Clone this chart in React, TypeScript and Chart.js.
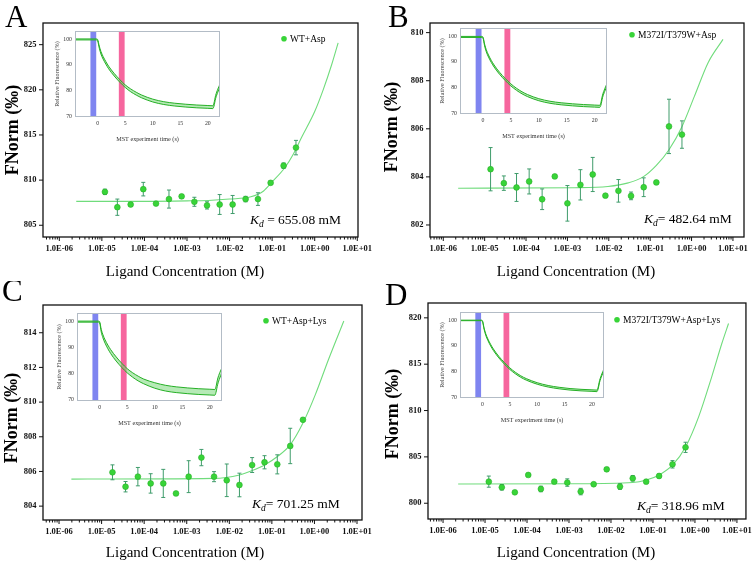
import React, { useEffect, useRef } from 'react';
import { Chart, registerables } from 'chart.js';
Chart.register(...registerables);

const FONT = '"Liberation Serif", "Times New Roman", serif';

// ---------- shared axis data ----------
const xTickValues = [1e-6, 1e-5, 1e-4, 1e-3, 1e-2, 1e-1, 1, 10];
const xTickLabels = ['1.0E-06', '1.0E-05', '1.0E-04', '1.0E-03', '1.0E-02', '1.0E-01', '1.0E+00', '1.0E+01'];

// ---------- Panel A : WT+Asp ----------
const concA = [1.18e-5, 2.31e-5, 4.75e-5, 9.4e-5, 1.87e-4, 3.77e-4, 7.48e-4, 1.49e-3, 2.95e-3, 5.85e-3, 1.18e-2, 2.38e-2, 4.64e-2, 9.22e-2, 0.186, 0.363];
const fnormA = [808.7, 807.0, 807.3, 809.0, 807.4, 807.9, 808.2, 807.6, 807.2, 807.3, 807.3, 807.9, 807.9, 809.7, 811.6, 813.6];
const errA = [0.3, 0.9, 0.2, 0.75, 0.2, 1.0, 0.2, 0.5, 0.4, 1.1, 1.0, 0.3, 0.7, 0.2, 0.3, 0.8];
const fitConcA = [2.5e-6, 1e-4, 1e-3, 3.16e-3, 1e-2, 3.16e-2, 6.3e-2, 0.1, 0.2, 0.316, 0.5, 1, 1.58, 2.51, 3.55];
const fitA = [807.65, 807.65, 807.7, 807.75, 807.9, 808.15, 808.8, 809.8, 811.4, 812.9, 814.8, 817.6, 820.0, 822.8, 825.2];
const yTicksA = [805, 810, 815, 820, 825];

// ---------- Panel B : M372I/T379W+Asp ----------
const concB = [1.39e-5, 2.91e-5, 5.89e-5, 1.19e-4, 2.45e-4, 4.95e-4, 1.0e-3, 2.06e-3, 4.09e-3, 8.28e-3, 1.71e-2, 3.45e-2, 6.98e-2, 0.141, 0.285, 0.586];
const fnormB = [804.32, 803.74, 803.56, 803.81, 803.07, 804.02, 802.9, 803.67, 804.1, 803.22, 803.42, 803.21, 803.57, 803.77, 806.1, 805.76];
const errB = [0.9, 0.3, 0.58, 0.52, 0.43, 0.06, 0.74, 0.63, 0.71, 0.06, 0.47, 0.16, 0.39, 0.06, 1.13, 0.57];
const fitConcB = [2.29e-6, 1.51e-3, 9.55e-3, 2.95e-2, 6.76e-2, 0.141, 0.285, 0.589, 1.17, 2.51, 5.75];
const fitB = [803.53, 803.55, 803.6, 803.75, 804.0, 804.48, 805.13, 806.1, 807.35, 808.75, 809.72];
const yTicksB = [802, 804, 806, 808, 810];

// ---------- Panel C : WT+Asp+Lys ----------
const concC = [1.8e-5, 3.65e-5, 7.11e-5, 1.42e-4, 2.81e-4, 5.59e-4, 1.11e-3, 2.21e-3, 4.38e-3, 8.71e-3, 1.73e-2, 3.44e-2, 6.72e-2, 0.134, 0.27, 0.537];
const fnormC = [805.95, 805.12, 805.7, 805.31, 805.31, 804.73, 805.7, 806.8, 805.7, 805.49, 805.22, 806.37, 806.53, 806.41, 807.47, 808.98];
const errC = [0.43, 0.3, 0.53, 0.56, 0.81, 0.06, 0.92, 0.47, 0.29, 0.94, 0.68, 0.43, 0.38, 0.55, 1.02, 0.1];
const fitConcC = [1.95e-6, 4.27e-3, 1.74e-2, 3.47e-2, 6.76e-2, 0.135, 0.269, 0.537, 1.05, 2.14, 4.9];
const fitC = [805.56, 805.6, 805.8, 806.05, 806.37, 806.86, 807.53, 808.79, 810.43, 812.46, 814.68];
const yTicksC = [804, 806, 808, 810, 812, 814];

// ---------- Panel D : M372I/T379W+Asp+Lys ----------
const concD = [1.23e-5, 2.51e-5, 5.13e-5, 1.07e-4, 2.14e-4, 4.46e-4, 9.1e-4, 1.9e-3, 3.87e-3, 7.91e-3, 1.64e-2, 3.3e-2, 6.89e-2, 0.14, 0.292, 0.597];
const fnormD = [802.33, 801.72, 801.18, 803.05, 801.54, 802.33, 802.23, 801.26, 802.05, 803.66, 801.8, 802.69, 802.33, 802.94, 804.2, 806.03];
const errD = [0.6, 0.3, 0.15, 0.15, 0.3, 0.2, 0.4, 0.35, 0.1, 0.2, 0.3, 0.3, 0.15, 0.2, 0.4, 0.55];
const fitConcD = [2.29e-6, 1.38e-3, 3.31e-2, 6.92e-2, 0.141, 0.295, 0.603, 1.23, 2.51, 4.37, 6.31];
const fitD = [802.08, 802.1, 802.23, 802.5, 803.05, 804.13, 806.1, 809.34, 813.64, 817.23, 819.39];
const yTicksD = [800, 805, 810, 815, 820];

// ---------- inset (MST traces) ----------
const insetTime = [-4.1, -0.2, 0, 0.3, 0.6, 1, 1.5, 2, 3, 4, 5, 6, 7, 8, 10, 12, 14, 16, 18, 20, 20.9, 21.1, 21.4, 21.8, 22.2];
const insetUpperA = [100.2, 100.2, 100.0, 97.4, 95.3, 93.3, 91.3, 89.5, 86.7, 84.3, 82.2, 80.6, 79.3, 78.2, 76.6, 75.6, 75.0, 74.6, 74.3, 74.1, 74.0, 75.0, 78.0, 80.5, 82.5];
const insetLowerA = [99.8, 99.8, 99.5, 96.6, 94.3, 92.3, 90.3, 88.5, 85.7, 83.3, 81.2, 79.5, 78.2, 77.1, 75.5, 74.5, 73.9, 73.5, 73.2, 73.0, 72.9, 73.8, 76.8, 79.3, 81.5];
const insetUpperB = [100.0, 100.0, 99.8, 97.0, 94.8, 92.7, 90.6, 88.8, 85.9, 83.5, 81.4, 79.7, 78.3, 77.2, 75.6, 74.6, 74.0, 73.6, 73.3, 73.1, 73.0, 74.0, 77.0, 79.5, 81.5];
const insetLowerB = [99.6, 99.6, 99.4, 96.3, 94.0, 91.9, 89.8, 88.0, 85.1, 82.7, 80.6, 78.9, 77.5, 76.4, 74.8, 73.8, 73.2, 72.8, 72.5, 72.3, 72.2, 73.0, 76.0, 78.5, 80.5];
const insetUpperC = [100.2, 100.2, 100.0, 97.0, 95.0, 93.0, 91.0, 89.3, 86.5, 84.1, 82.0, 80.4, 79.1, 78.0, 76.6, 75.6, 75.0, 74.6, 74.3, 74.1, 74.0, 75.0, 78.0, 80.5, 82.3];
const insetLowerC = [99.8, 99.8, 99.5, 96.0, 93.8, 91.7, 89.6, 87.8, 84.9, 82.5, 80.4, 78.7, 77.3, 76.2, 74.5, 73.4, 72.8, 72.4, 72.1, 71.9, 71.8, 72.8, 75.8, 78.4, 80.5];
const insetUpperD = [100.1, 100.1, 99.9, 97.0, 94.8, 92.7, 90.6, 88.8, 85.9, 83.5, 81.4, 79.7, 78.3, 77.2, 75.6, 74.5, 73.8, 73.3, 73.0, 72.8, 72.7, 73.6, 76.5, 79.0, 81.0];
const insetLowerD = [99.9, 99.9, 99.6, 96.5, 94.2, 92.1, 90.0, 88.2, 85.3, 82.9, 80.8, 79.1, 77.7, 76.6, 75.0, 73.9, 73.2, 72.7, 72.4, 72.2, 72.1, 72.9, 75.8, 78.3, 80.3];
const insetTicksX = [0, 5, 10, 15, 20];
const insetTicksY = [70, 80, 90, 100];
const blueBand = [-1.3, -0.25];
const pinkBand = [3.85, 4.9];

// ---------- texts ----------
const panelLetters = ['A', 'B', 'C', 'D'];
const legendLabels = ['WT+Asp', 'M372I/T379W+Asp', 'WT+Asp+Lys', 'M372I/T379W+Asp+Lys'];
const kdTexts = [' = 655.08 mM', '= 482.64 mM', '= 701.25 mM', '= 318.96 mM'];

// ---------- styles ----------
const PT_FILL = '#38d438';
const PT_EDGE = '#28b028';
const FIT_COLOR = '#70dc7c';
const ERR_COLOR = '#3f9c6b';
const INSET_LINE = '#26b026';
const INSET_FILL = 'rgba(110,214,110,0.5)';

type Box = { x0: number; y0: number; x1: number; y1: number };
type PanelCfg = {
  conc: number[]; fnorm: number[]; err: number[]; fitConc: number[]; fit: number[];
  yTicks: number[]; xRange: [number, number]; yRange: [number, number];
  canvas: { L: number; T: number; W: number; H: number };
  box: Box;
  letter: string; letterPos: [number, number];
  legend: string; legendPos: [number, number];
  kd: string; kdPos: [number, number];
  yTitlePos: [number, number]; xTitlePos: [number, number];
  insetBox: Box; insetUpper: number[]; insetLower: number[];
};

const panels: PanelCfg[] = [
  {
    conc: concA, fnorm: fnormA, err: errA, fitConc: fitConcA, fit: fitA, yTicks: yTicksA,
    xRange: [4.14e-7, 10.4], yRange: [803.7, 827.4],
    canvas: { L: 0, T: 0, W: 377, H: 281 }, box: { x0: 43, y0: 23, x1: 358, y1: 237 },
    letter: panelLetters[0], letterPos: [5, 26.5],
    legend: legendLabels[0], legendPos: [290, 42],
    kd: kdTexts[0], kdPos: [250, 224],
    yTitlePos: [13, 130], xTitlePos: [185, 272],
    insetBox: { x0: 75, y0: 31, x1: 220, y1: 117 }, insetUpper: insetUpperA, insetLower: insetLowerA,
  },
  {
    conc: concB, fnorm: fnormB, err: errB, fitConc: fitConcB, fit: fitB, yTicks: yTicksB,
    xRange: [4.78e-7, 18.5], yRange: [801.5, 810.4],
    canvas: { L: 377, T: 0, W: 378, H: 281 }, box: { x0: 430, y0: 23, x1: 744, y1: 237 },
    letter: panelLetters[1], letterPos: [388, 26.5],
    legend: legendLabels[1], legendPos: [638, 38],
    kd: kdTexts[1], kdPos: [644, 223],
    yTitlePos: [392, 127], xTitlePos: [576, 272],
    insetBox: { x0: 460, y0: 28, x1: 607, y1: 114 }, insetUpper: insetUpperB, insetLower: insetLowerB,
  },
  {
    conc: concC, fnorm: fnormC, err: errC, fitConc: fitConcC, fit: fitC, yTicks: yTicksC,
    xRange: [4.2e-7, 13.1], yRange: [803.2, 815.6],
    canvas: { L: 0, T: 281, W: 377, H: 282 }, box: { x0: 43, y0: 305, x1: 362, y1: 520 },
    letter: panelLetters[2], letterPos: [2, 301],
    legend: legendLabels[2], legendPos: [272, 324],
    kd: kdTexts[2], kdPos: [252, 508],
    yTitlePos: [12, 418], xTitlePos: [185, 553],
    insetBox: { x0: 77, y0: 313, x1: 222, y1: 401 }, insetUpper: insetUpperC, insetLower: insetLowerC,
  },
  {
    conc: concD, fnorm: fnormD, err: errD, fitConc: fitConcD, fit: fitD, yTicks: yTicksD,
    xRange: [4.38e-7, 16.4], yRange: [798.3, 821.6],
    canvas: { L: 377, T: 281, W: 378, H: 282 }, box: { x0: 428, y0: 303, x1: 746, y1: 519 },
    letter: panelLetters[3], letterPos: [385, 305],
    legend: legendLabels[3], legendPos: [623, 323],
    kd: kdTexts[3], kdPos: [637, 510],
    yTitlePos: [393, 414], xTitlePos: [576, 553],
    insetBox: { x0: 460, y0: 312, x1: 604, y1: 398 }, insetUpper: insetUpperD, insetLower: insetLowerD,
  },
];

function buildMain(canvas: HTMLCanvasElement, p: PanelCfg) {
  const { L, T, W, H } = p.canvas;
  const b = p.box;
  const yAxisW = b.x0 - L;
  const xAxisH = T + H - b.y1;
  const decor = {
    id: 'decor',
    beforeDatasetDraw(chart: any, args: any) {
      if (args.index !== 1) return;
      const ctx = chart.ctx;
      const xs = chart.scales.x;
      const ys = chart.scales.y;
      ctx.save();
      ctx.strokeStyle = ERR_COLOR;
      ctx.lineWidth = 1;
      p.conc.forEach((c, i) => {
        const px = xs.getPixelForValue(c);
        const ya = ys.getPixelForValue(p.fnorm[i] + p.err[i]);
        const yb = ys.getPixelForValue(p.fnorm[i] - p.err[i]);
        ctx.beginPath();
        ctx.moveTo(px, ya); ctx.lineTo(px, yb);
        ctx.moveTo(px - 2, ya); ctx.lineTo(px + 2, ya);
        ctx.moveTo(px - 2, yb); ctx.lineTo(px + 2, yb);
        ctx.stroke();
      });
      ctx.restore();
    },
    afterDraw(chart: any) {
      const ctx = chart.ctx;
      const ca = chart.chartArea;
      const xs = chart.scales.x;
      const ys = chart.scales.y;
      ctx.save();
      // frame
      ctx.strokeStyle = '#111';
      ctx.lineWidth = 1.3;
      ctx.strokeRect(ca.left, ca.top, ca.right - ca.left, ca.bottom - ca.top);
      // ticks
      ctx.lineWidth = 1;
      ctx.beginPath();
      p.yTicks.forEach((v) => {
        const py = ys.getPixelForValue(v);
        ctx.moveTo(ca.left - 4, py); ctx.lineTo(ca.left, py);
      });
      const decades = [1e-7].concat(xTickValues);
      decades.forEach((d) => {
        for (let k = 1; k <= 9; k++) {
          const v = d * k;
          if (v < p.xRange[0] || v > p.xRange[1]) continue;
          const px = xs.getPixelForValue(v);
          const len = k === 1 ? 4 : 2.5;
          ctx.moveTo(px, ca.bottom); ctx.lineTo(px, ca.bottom + len);
        }
      });
      ctx.stroke();
      // panel letter
      ctx.fillStyle = '#000';
      ctx.textBaseline = 'alphabetic';
      ctx.textAlign = 'left';
      ctx.font = `31px ${FONT}`;
      ctx.fillText(p.letter, p.letterPos[0] - L, p.letterPos[1] - T);
      // legend
      ctx.font = `9.5px ${FONT}`;
      ctx.fillText(p.legend, p.legendPos[0] - L, p.legendPos[1] - T);
      ctx.beginPath();
      ctx.fillStyle = PT_FILL;
      ctx.arc(p.legendPos[0] - L - 6, p.legendPos[1] - T - 3.3, 2.8, 0, Math.PI * 2);
      ctx.fill();
      // Kd text
      ctx.fillStyle = '#000';
      let x = p.kdPos[0] - L;
      const base = p.kdPos[1] - T;
      ctx.font = `italic 13.5px ${FONT}`;
      ctx.fillText('K', x, base);
      x += ctx.measureText('K').width;
      ctx.font = `italic 9.5px ${FONT}`;
      ctx.fillText('d', x, base + 3);
      x += ctx.measureText('d').width;
      ctx.font = `13.5px ${FONT}`;
      ctx.fillText(p.kd, x, base);
      // axis titles
      ctx.textAlign = 'center';
      ctx.textBaseline = 'middle';
      ctx.font = `15px ${FONT}`;
      ctx.fillText('Ligand Concentration (M)', p.xTitlePos[0] - L, p.xTitlePos[1] - T);
      ctx.translate(p.yTitlePos[0] - L, p.yTitlePos[1] - T);
      ctx.rotate(-Math.PI / 2);
      ctx.font = `bold 18px ${FONT}`;
      ctx.fillText('FNorm (‰)', 0, 0);
      ctx.restore();
    },
  };
  const tickFont = { family: FONT, size: 8.5, weight: 'bold' as const };
  return new Chart(canvas, {
    type: 'line',
    data: {
      datasets: [
        {
          data: p.fitConc.map((x, i) => ({ x, y: p.fit[i] })),
          borderColor: FIT_COLOR, borderWidth: 1.1, pointRadius: 0,
          cubicInterpolationMode: 'monotone', fill: false, order: 2,
        },
        {
          data: p.conc.map((x, i) => ({ x, y: p.fnorm[i] })),
          showLine: false, pointRadius: 2.9, pointBackgroundColor: PT_FILL,
          pointBorderColor: PT_EDGE, pointBorderWidth: 0.6, order: 1,
        },
      ],
    } as any,
    options: {
      responsive: false,
      animation: false,
      events: [],
      layout: { padding: { left: 0, top: b.y0 - T, right: L + W - b.x1, bottom: 0 } },
      plugins: { legend: { display: false }, tooltip: { enabled: false } },
      scales: {
        x: {
          type: 'logarithmic', min: p.xRange[0], max: p.xRange[1],
          afterFit: (s: any) => { s.height = xAxisH; },
          afterBuildTicks: (s: any) => { s.ticks = xTickValues.map((v) => ({ value: v })); },
          grid: { display: false, drawTicks: true, tickLength: 4 },
          border: { display: false },
          ticks: {
            callback: (_v: any, i: number) => xTickLabels[i],
            font: tickFont, color: '#111', padding: 3, maxRotation: 0, autoSkip: false,
          },
        },
        y: {
          type: 'linear', min: p.yRange[0], max: p.yRange[1],
          afterFit: (s: any) => { s.width = yAxisW; },
          afterBuildTicks: (s: any) => { s.ticks = p.yTicks.map((v) => ({ value: v })); },
          grid: { display: false, drawTicks: true, tickLength: 4 },
          border: { display: false },
          ticks: { callback: (v: any) => String(v), font: tickFont, color: '#111', padding: 2.5, autoSkip: false },
        },
      },
    } as any,
    plugins: [decor],
  });
}

function insetGeom(p: PanelCfg) {
  const b = p.insetBox;
  const L = b.x0 - 25;
  const T = b.y0 - 9;
  const W = b.x1 - b.x0 + 30;
  const H = b.y1 - b.y0 + 9 + 30;
  return { L, T, W, H };
}

function buildInset(canvas: HTMLCanvasElement, p: PanelCfg) {
  const deco = {
    id: 'insetDeco',
    beforeDraw(chart: any) {
      const ctx = chart.ctx;
      const ca = chart.chartArea;
      ctx.save();
      ctx.fillStyle = '#fff';
      ctx.fillRect(ca.left, ca.top, ca.right - ca.left, ca.bottom - ca.top);
      ctx.restore();
    },
    beforeDatasetsDraw(chart: any) {
      const ctx = chart.ctx;
      const ca = chart.chartArea;
      const xs = chart.scales.x;
      ctx.save();
      ctx.fillStyle = '#7f85f0';
      let a = xs.getPixelForValue(blueBand[0]);
      let c = xs.getPixelForValue(blueBand[1]);
      ctx.fillRect(a, ca.top, c - a, ca.bottom - ca.top);
      ctx.fillStyle = '#f6669e';
      a = xs.getPixelForValue(pinkBand[0]);
      c = xs.getPixelForValue(pinkBand[1]);
      ctx.fillRect(a, ca.top, c - a, ca.bottom - ca.top);
      ctx.restore();
    },
    afterDraw(chart: any) {
      const ctx = chart.ctx;
      const ca = chart.chartArea;
      ctx.save();
      ctx.strokeStyle = '#b3bcc6';
      ctx.lineWidth = 1;
      ctx.strokeRect(ca.left + 0.5, ca.top + 0.5, ca.right - ca.left - 1, ca.bottom - ca.top - 1);
      ctx.restore();
    },
  };
  const f = { family: FONT, size: 5.8 };
  return new Chart(canvas, {
    type: 'line',
    data: {
      datasets: [
        {
          data: insetTime.map((x, i) => ({ x, y: p.insetLower[i] })),
          borderColor: INSET_LINE, borderWidth: 1, pointRadius: 0,
          cubicInterpolationMode: 'monotone', fill: false,
        },
        {
          data: insetTime.map((x, i) => ({ x, y: p.insetUpper[i] })),
          borderColor: INSET_LINE, borderWidth: 1, pointRadius: 0,
          cubicInterpolationMode: 'monotone', fill: '-1', backgroundColor: INSET_FILL,
        },
      ],
    } as any,
    options: {
      responsive: false,
      animation: false,
      events: [],
      layout: { padding: { left: 0, top: 9, right: 5, bottom: 0 } },
      plugins: { legend: { display: false }, tooltip: { enabled: false } },
      scales: {
        x: {
          type: 'linear', min: -4.1, max: 22.2,
          afterFit: (s: any) => { s.height = 30; },
          afterBuildTicks: (s: any) => { s.ticks = insetTicksX.map((v) => ({ value: v })); },
          grid: { display: false, drawTicks: false },
          border: { display: false },
          ticks: { font: f, color: '#333', padding: 3.4, maxRotation: 0, autoSkip: false },
          title: { display: true, text: 'MST experiment time (s)', font: { family: FONT, size: 6.2 }, color: '#333', padding: { top: 0, bottom: 4.3 } },
        },
        y: {
          type: 'linear', min: 69.6, max: 103.3,
          afterFit: (s: any) => { s.width = 25; },
          afterBuildTicks: (s: any) => { s.ticks = insetTicksY.map((v) => ({ value: v })); },
          grid: { display: false, drawTicks: false },
          border: { display: false },
          ticks: { font: f, color: '#333', padding: 3, autoSkip: false },
          title: { display: true, text: 'Relative Fluorescence (%)', font: { family: FONT, size: 6.2 }, color: '#444', padding: { top: 3.5, bottom: 0 } },
        },
      },
    } as any,
    plugins: [deco],
  });
}

function Panel({ p }: { p: PanelCfg }) {
  const mainRef = useRef<HTMLCanvasElement>(null);
  const insetRef = useRef<HTMLCanvasElement>(null);
  useEffect(() => {
    const m = buildMain(mainRef.current as HTMLCanvasElement, p);
    const i = buildInset(insetRef.current as HTMLCanvasElement, p);
    return () => { m.destroy(); i.destroy(); };
  }, [p]);
  const c = p.canvas;
  const g = insetGeom(p);
  return (
    <>
      <canvas ref={mainRef} width={c.W} height={c.H}
        style={{ position: 'absolute', left: c.L, top: c.T, width: c.W, height: c.H }} />
      <canvas ref={insetRef} width={g.W} height={g.H}
        style={{ position: 'absolute', left: g.L, top: g.T, width: g.W, height: g.H }} />
    </>
  );
}

export default function App() {
  return (
    <div style={{ position: 'fixed', left: 0, top: 0, width: 755, height: 563, background: '#fff', overflow: 'hidden' }}>
      {panels.map((p, i) => <Panel key={i} p={p} />)}
    </div>
  );
}
